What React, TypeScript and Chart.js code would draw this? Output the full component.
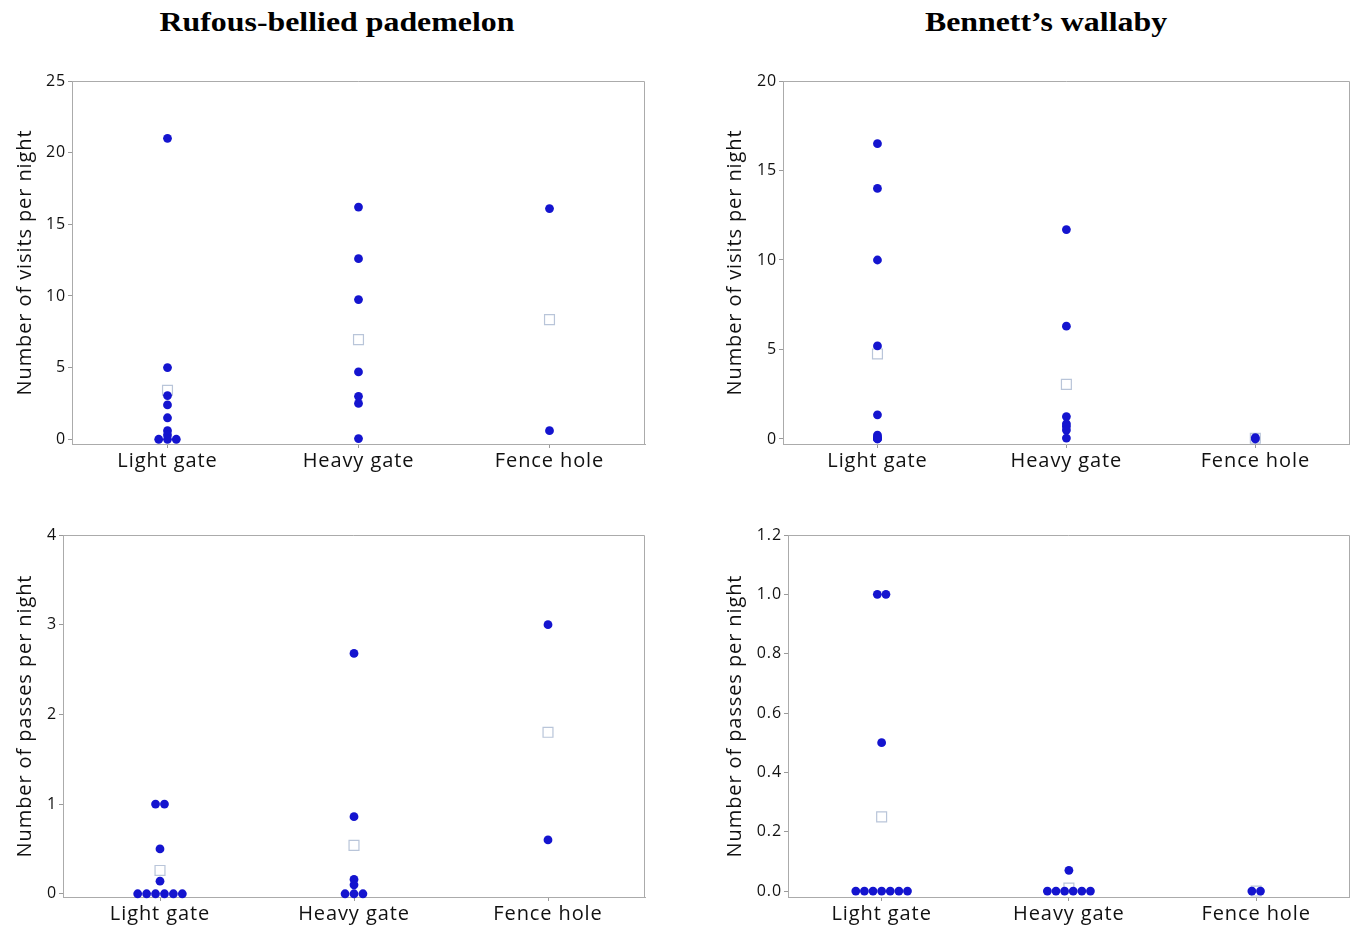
import React, { useEffect, useRef } from "react";
import { Chart, registerables } from "chart.js";

Chart.register(...registerables);

// ---------- DATA ----------
const categories = ["Light gate", "Heavy gate", "Fence hole"];

// Rufous-bellied pademelon – visits per night
const pademelonVisitsLight = [21, 5, 3.05, 2.4, 1.5, 0.6, 0.3, 0, 0, 0];
const pademelonVisitsHeavy = [16.2, 12.6, 9.75, 4.7, 3.0, 2.5, 0.05];
const pademelonVisitsFence = [16.1, 0.6];
const pademelonVisitsMeans = [3.42, 6.95, 8.35];
const pademelonVisitsTicks = [0, 5, 10, 15, 20, 25];
const pademelonVisitsTickLabels = ["0", "5", "10", "15", "20", "25"];

// Bennett's wallaby – visits per night
const wallabyVisitsLight = [16.5, 14, 10, 5.2, 1.35, 0.22, 0.1, 0.05, 0.02, 0];
const wallabyVisitsHeavy = [11.7, 6.3, 1.25, 0.85, 0.7, 0.5, 0.05];
const wallabyVisitsFence = [0.08, 0];
const wallabyVisitsMeans = [4.75, 3.05, 0.04];
const wallabyVisitsTicks = [0, 5, 10, 15, 20];
const wallabyVisitsTickLabels = ["0", "5", "10", "15", "20"];

// Rufous-bellied pademelon – passes per night
const pademelonPassesLight = [1, 1, 0.5, 0.14, 0, 0, 0, 0, 0, 0];
const pademelonPassesHeavy = [2.68, 0.86, 0.16, 0.1, 0, 0, 0];
const pademelonPassesFence = [3.0, 0.6];
const pademelonPassesMeans = [0.26, 0.54, 1.8];
const pademelonPassesTicks = [0, 1, 2, 3, 4];
const pademelonPassesTickLabels = ["0", "1", "2", "3", "4"];

// Bennett's wallaby – passes per night
const wallabyPassesLight = [1, 1, 0.5, 0, 0, 0, 0, 0, 0, 0];
const wallabyPassesHeavy = [0.07, 0, 0, 0, 0, 0, 0];
const wallabyPassesFence = [0, 0];
const wallabyPassesMeans = [0.25, 0.01, 0];
const wallabyPassesTicks = [0, 0.2, 0.4, 0.6, 0.8, 1.0, 1.2];
const wallabyPassesTickLabels = ["0.0", "0.2", "0.4", "0.6", "0.8", "1.0", "1.2"];

const speciesTitles = ["Rufous-bellied pademelon", "Bennett\u2019s wallaby"];
const yTitleVisits = "Number of visits per night";
const yTitlePasses = "Number of passes per night";

// ---------- STYLE ----------
const DOT_COLOR = "#1414cf";
const MEAN_COLOR = "#b9c5d9";
const FRAME_COLOR = "#ababab";
const TEXT_COLOR = "#111111";
const SANS = "'Open Sans', 'Noto Sans', sans-serif";
const DOT_STEP = 0.046; // horizontal stacking step for tied values (category units)

function stackGroup(values: number[], catIndex: number) {
  const counts = new Map<number, number>();
  values.forEach((v) => counts.set(v, (counts.get(v) || 0) + 1));
  const seen = new Map<number, number>();
  return values.map((v) => {
    const n = counts.get(v)!;
    const k = seen.get(v) || 0;
    seen.set(v, k + 1);
    return { x: catIndex + 1 + (k - (n - 1) / 2) * DOT_STEP, y: v };
  });
}

const spacingPlugin = {
  id: "letterSpacing",
  beforeUpdate(chart: any) {
    chart.ctx.letterSpacing = "0.9px";
  },
  beforeDraw(chart: any) {
    chart.ctx.letterSpacing = "0.9px";
  },
};

const framePlugin = {
  id: "frameTopRight",
  afterDraw(chart: any) {
    const { ctx, chartArea } = chart;
    const { left, top, right, bottom } = chartArea;
    ctx.save();
    ctx.strokeStyle = FRAME_COLOR;
    ctx.lineWidth = 1;
    ctx.beginPath();
    const t = Math.round(top) + 0.5;
    const r = Math.round(right) - 0.5;
    ctx.moveTo(left, t);
    ctx.lineTo(r, t);
    ctx.lineTo(r, bottom);
    ctx.stroke();
    ctx.restore();
  },
};

type PanelCfg = {
  left: number;
  top: number;
  w: number;
  h: number;
  axisW: number;
  padTop: number;
  padRight: number;
  xAxisH: number;
  yMin: number;
  yMax: number;
  groups: number[][];
  means: number[];
  ticks: number[];
  tickLabels: string[];
  yTitle: string;
};

function buildConfig(p: PanelCfg): any {
  const points = p.groups.flatMap((g, i) => stackGroup(g, i));
  const meanPts = p.means.map((m, i) => ({ x: i + 1, y: m }));
  return {
    type: "scatter",
    data: {
      datasets: [
        {
          data: points,
          pointStyle: "circle",
          pointRadius: 4.4,
          backgroundColor: DOT_COLOR,
          borderWidth: 0,
          clip: false,
        },
        {
          data: meanPts,
          pointStyle: "rect",
          pointRadius: 7,
          backgroundColor: "rgba(255,255,255,0)",
          borderColor: MEAN_COLOR,
          borderWidth: 1.2,
          clip: false,
        },
      ],
    },
    options: {
      animation: false,
      responsive: false,
      maintainAspectRatio: false,
      devicePixelRatio: 1,
      layout: { padding: { top: p.padTop, right: p.padRight, left: 0, bottom: 0 } },
      plugins: { legend: { display: false }, tooltip: { enabled: false } },
      scales: {
        x: {
          type: "linear",
          min: 0.5,
          max: 3.5,
          afterBuildTicks: (axis: any) => {
            axis.ticks = categories.map((_, i) => ({ value: i + 1 }));
          },
          afterFit: (s: any) => {
            s.height = p.xAxisH;
          },
          ticks: {
            autoSkip: false,
            maxRotation: 0,
            padding: 1,
            color: TEXT_COLOR,
            font: { family: SANS, size: 20 },
            callback: (_v: any, i: number) => categories[i],
          },
          grid: { drawOnChartArea: false, drawTicks: true, tickLength: 4, color: "#9a9a9a" },
          border: { display: true, color: FRAME_COLOR, width: 1 },
        },
        y: {
          type: "linear",
          min: p.yMin,
          max: p.yMax,
          afterBuildTicks: (axis: any) => {
            axis.ticks = p.ticks.map((v) => ({ value: v }));
          },
          afterFit: (s: any) => {
            s.width = p.axisW;
          },
          ticks: {
            padding: 2,
            color: TEXT_COLOR,
            font: { family: SANS, size: 16 },
            callback: (_v: any, i: number) => p.tickLabels[i],
          },
          grid: { drawOnChartArea: false, drawTicks: true, tickLength: 4, color: "#9a9a9a" },
          border: { display: true, color: FRAME_COLOR, width: 1 },
          title: {
            display: true,
            text: p.yTitle,
            color: TEXT_COLOR,
            font: { family: SANS, size: 20 },
            padding: { top: 13, bottom: 0 },
          },
        },
      },
    },
    plugins: [spacingPlugin, framePlugin],
  };
}

function Panel({ p }: { p: PanelCfg }) {
  const ref = useRef<HTMLCanvasElement>(null);
  useEffect(() => {
    const chart = new Chart(ref.current!, buildConfig(p));
    return () => chart.destroy();
  }, []);
  return (
    <canvas
      ref={ref}
      width={p.w}
      height={p.h}
      style={{ position: "absolute", left: p.left, top: p.top, width: p.w, height: p.h }}
    />
  );
}

const panels: PanelCfg[] = [
  {
    left: 0, top: 60, w: 660, h: 420, axisW: 72, padTop: 21, padRight: 15, xAxisH: 36,
    yMin: -0.33, yMax: 25,
    groups: [pademelonVisitsLight, pademelonVisitsHeavy, pademelonVisitsFence],
    means: pademelonVisitsMeans, ticks: pademelonVisitsTicks, tickLabels: pademelonVisitsTickLabels,
    yTitle: yTitleVisits,
  },
  {
    left: 710, top: 60, w: 648, h: 420, axisW: 73, padTop: 21, padRight: 3, xAxisH: 36,
    yMin: -0.28, yMax: 20,
    groups: [wallabyVisitsLight, wallabyVisitsHeavy, wallabyVisitsFence],
    means: wallabyVisitsMeans, ticks: wallabyVisitsTicks, tickLabels: wallabyVisitsTickLabels,
    yTitle: yTitleVisits,
  },
  {
    left: 0, top: 515, w: 660, h: 415, axisW: 63, padTop: 20, padRight: 15, xAxisH: 33,
    yMin: -0.036, yMax: 4,
    groups: [pademelonPassesLight, pademelonPassesHeavy, pademelonPassesFence],
    means: pademelonPassesMeans, ticks: pademelonPassesTicks, tickLabels: pademelonPassesTickLabels,
    yTitle: yTitlePasses,
  },
  {
    left: 710, top: 515, w: 648, h: 415, axisW: 78, padTop: 20, padRight: 3, xAxisH: 33,
    yMin: -0.02, yMax: 1.2,
    groups: [wallabyPassesLight, wallabyPassesHeavy, wallabyPassesFence],
    means: wallabyPassesMeans, ticks: wallabyPassesTicks, tickLabels: wallabyPassesTickLabels,
    yTitle: yTitlePasses,
  },
];

const titleStyle: React.CSSProperties = {
  position: "absolute",
  top: 4,
  width: 600,
  textAlign: "center",
  fontFamily: "'Liberation Serif', 'Times New Roman', serif",
  fontWeight: "bold",
  fontSize: 27,
  lineHeight: "36px",
  color: "#000",
  transform: "scaleX(1.18)",
  transformOrigin: "50% 50%",
};

export default function App() {
  return (
    <div
      style={{
        position: "absolute",
        left: 0,
        top: 0,
        width: 1358,
        height: 930,
        overflow: "hidden",
        background: "#fff",
      }}
    >
      <div style={{ ...titleStyle, left: 337 - 300 }}>{speciesTitles[0]}</div>
      <div style={{ ...titleStyle, left: 1046 - 300 }}>{speciesTitles[1]}</div>
      {panels.map((p, i) => (
        <Panel key={i} p={p} />
      ))}
    </div>
  );
}
